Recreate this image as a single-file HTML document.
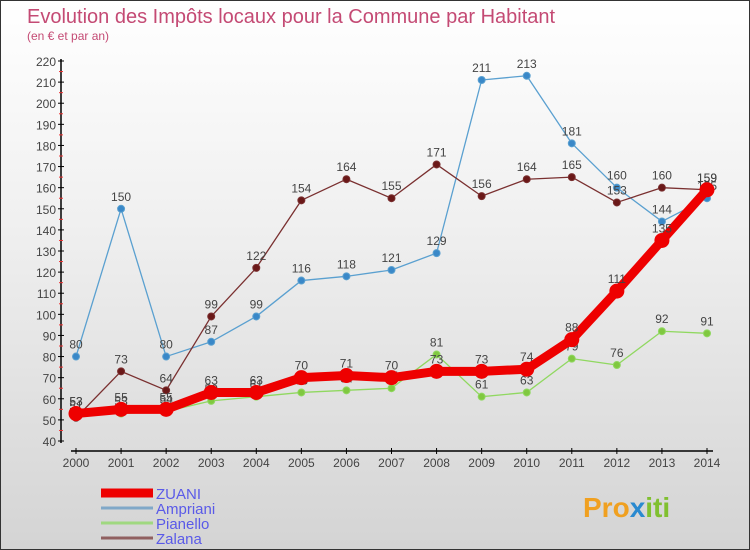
<!DOCTYPE html>
<html><head><meta charset="utf-8"><style>
body{margin:0}
#c{width:748px;height:548px;border:1px solid #333;background:linear-gradient(#fff,#f0f0f0 40%,#d4d4d4);position:relative;overflow:hidden;font-family:"Liberation Sans",sans-serif}
</style></head><body>
<div id="c">
<svg id="s" width="748" height="548" xmlns="http://www.w3.org/2000/svg">
<text x="26" y="22" font-size="20" fill="#c44a74">Evolution des Impôts locaux pour la Commune par Habitant</text>
<text x="26" y="39" font-size="12" fill="#c44a74">(en € et par an)</text>
<g id="axes"></g><g id="series"></g><g id="legend"></g>
<text x="582" y="516" font-size="28" font-weight="bold" fill="#f0a020">Pro<tspan fill="#2a8ad0">x</tspan><tspan fill="#80c030">iti</tspan></text>
</svg></div>
<script>
const years=[2000,2001,2002,2003,2004,2005,2006,2007,2008,2009,2010,2011,2012,2013,2014];
const yTicks=[40,50,60,70,80,90,100,110,120,130,140,150,160,170,180,190,200,210,220];
const zuani=[53,55,55,63,63,70,71,70,73,73,74,88,111,135,159];
const ampriani=[80,150,80,87,99,116,118,121,129,211,213,181,160,144,155];
const pianello=[53,53,54,59,61,63,64,65,81,61,63,79,76,92,91];
const zalana=[51,73,64,99,122,154,164,155,171,156,164,165,153,160,159];
const NS="http://www.w3.org/2000/svg";
const X=i=>75+i*(706-75)/14;
const Y=v=>440-(v-40)*380/180;
function mk(t,a,p){const e=document.createElementNS(NS,t);for(const k in a)e.setAttribute(k,a[k]);p.appendChild(e);return e;}
const ax=document.getElementById('axes');
let yl=mk('line',{x1:60,y1:58,x2:60,y2:442,stroke:'#000','stroke-width':1.5},ax);


yTicks.forEach(v=>{
 mk('line',{x1:57,x2:63,y1:Y(v),y2:Y(v),stroke:'#000'},ax);
 if(v<220)mk('line',{x1:58,x2:62,y1:Y(v+5),y2:Y(v+5),stroke:'#e33'},ax);
 const t=mk('text',{x:55,y:Y(v)+5,'text-anchor':'end','font-size':12,fill:'#444'},ax);t.textContent=v;
 
 
});
let xl=mk('line',{x1:70,y1:450,x2:712,y2:450,stroke:'#000','stroke-width':1.5},ax);


years.forEach((y,i)=>{
 mk('line',{x1:X(i),x2:X(i),y1:447,y2:453,stroke:'#000'},ax);
 const t=mk('text',{x:X(i),y:466,'text-anchor':'middle','font-size':12,fill:'#444'},ax);t.textContent=y;
 
 
});
const sg=document.getElementById('series');
function series(d,name,color,w,r,fill){
 const g=mk('g',{},sg);
 
 
 mk('polyline',{points:d.map((v,i)=>X(i)+','+Y(v)).join(' '),fill:'none',stroke:color,'stroke-width':w,'stroke-linejoin':'round'},g);
 d.forEach((v,i)=>{
  const c=mk('circle',{cx:X(i),cy:Y(v),r:r,fill:fill,stroke:color,'stroke-width':1},g);
  
  
  const t=mk('text',{x:X(i),y:Y(v)-8,'text-anchor':'middle','font-size':12,fill:'#444'},g);t.textContent=v;
  
  
 });
}
series(ampriani,'ampriani','#5aa0d0',1.3,3.5,'#3a88c8');
series(zalana,'zalana','#7a3030',1.3,3.5,'#6a1818');
series(pianello,'pianello','#90d860',1.3,3.5,'#80c840');
series(zuani,'zuani','#ee0000',9,7,'#ee0000');
const lg=document.getElementById('legend');
[['ZUANI','#ee0000',9],['Ampriani','#80a8c8',3],['Pianello','#a0d880',3],['Zalana','#906060',3]].forEach((e,i)=>{
 const y=493+i*15;
 const g=mk('g',{},lg);
 
 
 mk('line',{x1:100,x2:152,y1:y-1,y2:y-1,stroke:e[1],'stroke-width':e[2]},g);
 const t=mk('text',{x:155,y:y+5,'font-size':15,fill:'#5a5ae8'},g);t.textContent=e[0];
});
</script>
</body></html>
